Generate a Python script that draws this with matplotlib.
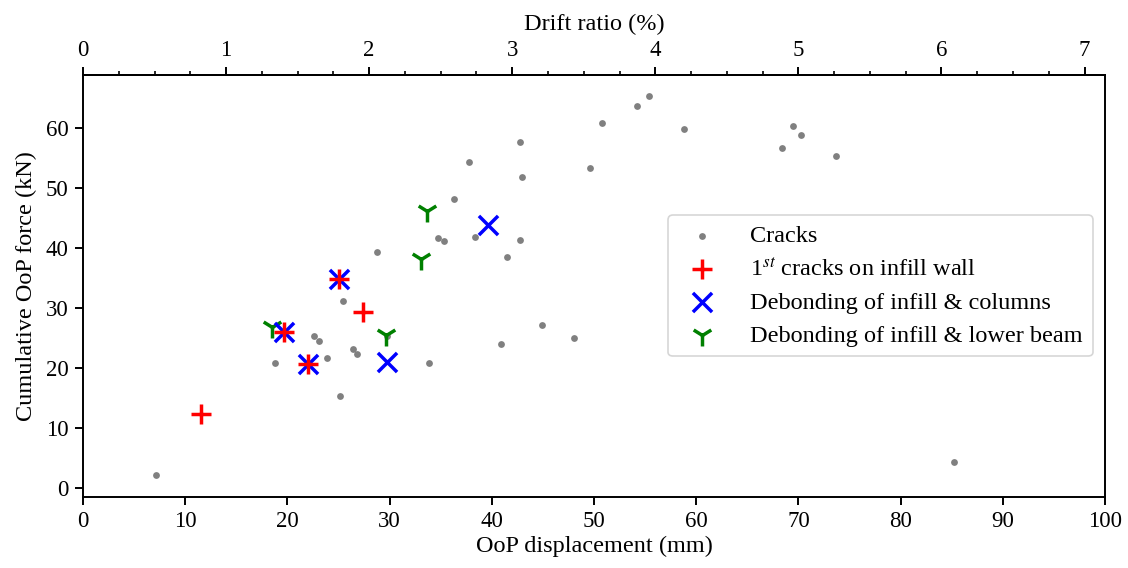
import numpy as np
import matplotlib
matplotlib.use('Agg')
import matplotlib.pyplot as plt
from matplotlib.ticker import MultipleLocator, FixedLocator

# wall height used for drift ratio (mm)
H_WALL = 1400.0

# Cracks (grey dots)
crack_disp = [7.1, 18.8, 22.6, 23.1, 23.9, 25.1, 25.4, 26.4, 26.8, 28.8, 29.7, 33.9,
              34.7, 35.3, 36.3, 37.8, 38.4, 40.9, 41.5, 42.8, 42.8, 42.95, 44.9, 48.0,
              49.6, 50.75, 54.2, 55.4, 58.8, 68.4, 69.5, 70.3, 73.7, 85.2]
crack_force = [2.2, 20.8, 25.4, 24.5, 21.7, 15.3, 31.1, 23.2, 22.3, 39.4, 25.3, 20.8,
               41.6, 41.2, 48.1, 54.3, 41.8, 24.1, 38.5, 57.7, 41.4, 51.9, 27.2, 25.0,
               53.3, 60.8, 63.6, 65.3, 59.8, 56.6, 60.3, 58.8, 55.3, 4.4]

# 1st cracks on infill wall
first_disp = [11.5, 19.7, 22.0, 25.05, 27.4]
first_force = [12.35, 26.0, 20.7, 34.8, 29.4]

# Debonding of infill & columns
col_disp = [19.7, 22.0, 25.05, 29.7, 39.6]
col_force = [26.0, 20.7, 34.8, 21.0, 43.8]

# Debonding of infill & lower beam
beam_disp = [18.5, 29.6, 33.1, 33.7]
beam_force = [26.9, 25.5, 38.2, 46.2]

drift_ticks = [0, 1, 2, 3, 4, 5, 6, 7]

plt.rcParams['font.family'] = ['Liberation Serif', 'DejaVu Serif']
plt.rcParams['mathtext.fontset'] = 'stix'
plt.rcParams['font.size'] = 17.5
plt.rcParams['axes.linewidth'] = 1.4

fig = plt.figure(figsize=(11.28, 5.68), dpi=100)
ax = fig.add_axes([0.0736, 0.1255, 0.9060, 0.7425])

ax.scatter(crack_disp, crack_force, s=24, marker='o', color='gray', linewidths=0,
           label='Cracks', zorder=2)
ax.scatter(beam_disp, beam_force, s=250, marker='1', color='green',
           linewidths=2.5, label='Debonding of infill & lower beam', zorder=3)
ax.scatter(col_disp, col_force, s=190, marker='x', color='blue',
           linewidths=2.5, label='Debonding of infill & columns', zorder=4)
ax.scatter(first_disp, first_force, s=210, marker='+', color='red',
           linewidths=2.5, label='1$^{st}$ cracks on infill wall', zorder=5)

ax.set_xlim(0, 100)
ax.set_ylim(-1.4, 68.8)
ax.xaxis.set_major_locator(MultipleLocator(10))
ax.yaxis.set_major_locator(MultipleLocator(10))
ax.tick_params(which='major', length=5.8, width=1.4, pad=4.5, labelsize=16.5)
ax.set_xlabel('OoP displacement (mm)', labelpad=3)
ax.set_ylabel('Cumulative OoP force (kN)', labelpad=6)

top = ax.secondary_xaxis('top', functions=(lambda x: x / H_WALL * 100,
                                           lambda x: x * H_WALL / 100))
top.xaxis.set_major_locator(FixedLocator(drift_ticks))
top.xaxis.set_minor_locator(FixedLocator(np.arange(0, 7.01, 0.25)))
top.tick_params(which='major', length=5.8, width=1.4, pad=4.5, labelsize=16.5)
top.tick_params(which='minor', length=3.2, width=1.2)
top.set_xlabel('Drift ratio (%)', labelpad=7)

handles, labels = ax.get_legend_handles_labels()
order = [0, 3, 2, 1]
leg = ax.legend([handles[i] for i in order], [labels[i] for i in order],
                loc='center right', borderaxespad=0.5, handletextpad=1.0,
                labelspacing=0.45, fancybox=True, fontsize=17.5)
leg.get_frame().set_edgecolor('#cccccc')
leg.get_frame().set_linewidth(1.2)

fig.savefig('out.png', dpi=100)
